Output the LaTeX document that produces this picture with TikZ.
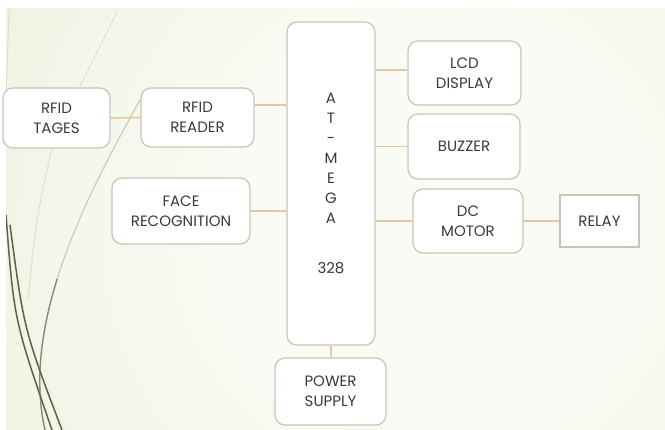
\documentclass[tikz,border=0pt]{standalone}
\usepackage{fontspec}
\setmainfont{Poppins}
\definecolor{bgin}{HTML}{F9FBF4}
\definecolor{bgout}{HTML}{E2E9CD}
\definecolor{boxline}{HTML}{CBC4B4}
\definecolor{conn}{HTML}{E6C79C}
\definecolor{txt}{HTML}{3A3A3A}
\definecolor{olive}{HTML}{625E48}
\definecolor{paleolive}{HTML}{DCE1C8}
\pgfdeclareradialshading{bgshade}{\pgfpoint{0bp}{0bp}}{color(0bp)=(bgin); color(10bp)=(bgin); color(40bp)=(bgout); color(50bp)=(bgout)}
\tikzset{
  blk/.style={draw=boxline, line width=1.2pt, fill=white, rounded corners=10pt,
    text=txt, align=center, inner sep=0pt, font=\fontsize{15}{20}\selectfont},
  sqblk/.style={blk, rounded corners=0pt},
  wire/.style={draw=conn, line width=1.6pt},
}
\begin{document}
\begin{tikzpicture}[x=1pt, y=-1pt]
\useasboundingbox (0,0) rectangle (665,430);
% background
\fill[white] (0,0) rectangle (665,430);
\begin{scope}
  \clip (6,9) rectangle (665,430);
  \shade[shading=bgshade] (430,230) circle (520);
  % decorative lines
  \draw[paleolive, line width=1pt] (9,10) -- (6,100);
  \draw[paleolive, line width=0.8pt] (118,10) -- (78,90);
  \draw[paleolive, line width=1pt] (52,148) .. controls (36,220) .. (28,300);
  \draw[paleolive!85!olive, line width=1.2pt] (140,100) .. controls (90,190) and (20,320) .. (45,430);
  \begin{scope}
    \clip (0,280) rectangle (200,430);
    \draw[olive!75, line width=1.3pt] (140,100) .. controls (90,190) and (20,320) .. (45,430);
  \end{scope}
  \draw[olive, line width=1.5pt] (6,215) .. controls (14,320) .. (52,430);
  \draw[olive, line width=1.5pt] (10,225) .. controls (24,330) .. (62,430);
\end{scope}
% blocks
\node[blk, minimum width=107pt, minimum height=60pt] (tages) at (56.5,118) {RFID\\TAGES};
\node[blk, minimum width=113pt, minimum height=59pt] (reader) at (197.5,117.5) {RFID\\READER};
\node[blk, minimum width=138pt, minimum height=66pt] (face) at (181,211) {FACE\\RECOGNITION};
\node[blk, minimum width=88pt, minimum height=323pt] (mega) at (331,183.5) {A\\T\\-\\M\\E\\G\\A\\[30pt]328};
\node[blk, minimum width=113pt, minimum height=64pt] (lcd) at (464.5,73) {LCD\\DISPLAY};
\node[blk, minimum width=112pt, minimum height=65pt] (buzzer) at (464,146.5) {BUZZER};
\node[blk, minimum width=110pt, minimum height=64pt] (motor) at (468,221) {DC\\MOTOR};
\node[sqblk, minimum width=79pt, minimum height=52pt] (relay) at (599.5,221) {RELAY};
\node[blk, minimum width=111pt, minimum height=67pt] (power) at (330.5,391.5) {POWER\\SUPPLY};
% connectors
\draw[wire] (tages.east) -- (reader.west);
\draw[wire] ([yshift=12.5pt]reader.east) -- ([yshift=12.5pt]reader.east -| mega.west);
\draw[wire] (face.east) -- (face.east -| mega.west);
\draw[wire] ([yshift=3pt]lcd.west) -- ([yshift=3pt]lcd.west -| mega.east);
\draw[wire] (buzzer.west) -- (buzzer.west -| mega.east);
\draw[wire] (motor.west) -- (motor.west -| mega.east);
\draw[wire] (motor.east) -- (relay.west);
\draw[wire] (mega.south) -- (mega.south |- power.north);
\end{tikzpicture}
\end{document}
